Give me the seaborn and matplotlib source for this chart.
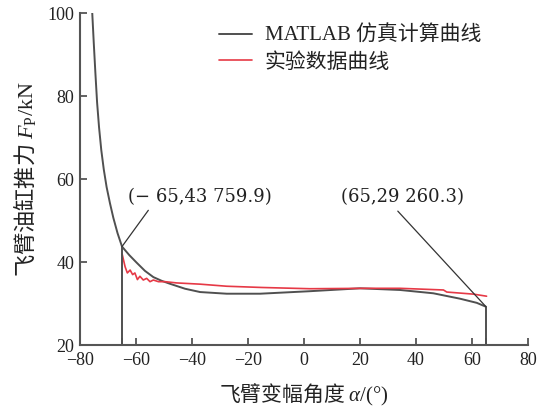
import matplotlib
matplotlib.use("Agg")
import matplotlib.pyplot as plt
import seaborn as sns
import pandas as pd

# MATLAB simulated curve (angle in deg, force in kN)
sim_x = [-75.7, -75.1, -74.5, -73.9, -73.2, -72.4, -71.5, -70.5, -69.3, -68.1, -66.6,
         -65.0, -62.4, -59.8, -56.8, -53.8, -50.8, -47.9, -42.5, -37.1, -27.6, -15.7,
         2.0, 20.0, 34.3, 46.2, 55.7, 61.7, 65.0]
sim_y = [101.0, 93.0, 85.5, 78.5, 72.5, 67.0, 62.3, 58.1, 54.2, 50.7, 47.0,
         43.76, 41.7, 39.9, 37.9, 36.4, 35.5, 34.8, 33.6, 32.8, 32.4, 32.4,
         33.0, 33.7, 33.3, 32.5, 31.2, 30.2, 29.26]

# experimental curve
exp_x = [-65.0, -63.9, -63.1, -62.1, -61.2, -60.4, -59.5, -58.6, -57.4, -56.2, -55.0,
         -53.8, -52.0, -49.6, -45.5, -37.1, -27.6, -15.0, 2.1, 22.4, 34.3, 49.8,
         51.0, 60.5, 65.2]
exp_y = [42.1, 38.9, 37.4, 38.1, 37.0, 37.4, 35.8, 36.6, 35.7, 36.1, 35.3,
         35.7, 35.3, 35.3, 35.0, 34.7, 34.2, 33.9, 33.6, 33.7, 33.7, 33.3,
         32.8, 32.3, 31.8]

# marked end points (kN) and their labels
mark_x = [-65, 65]
mark_y = [43.7599, 29.2603]
mark_labels = ["(\u2212 65,43 759.9)", "(65,29 260.3)"]

legend_labels = ["MATLAB 仿真计算曲线", "实验数据曲线"]

sns.set_theme(style="ticks")
plt.rcParams["font.family"] = ["Liberation Serif", "Noto Sans CJK SC"]
# mathtext: italic symbols and units in serif
plt.rcParams["mathtext.fontset"] = "custom"
plt.rcParams["mathtext.rm"] = "Liberation Serif"
plt.rcParams["mathtext.it"] = "Liberation Serif:italic"
plt.rcParams["mathtext.sf"] = "Liberation Serif"
plt.rcParams["axes.unicode_minus"] = True

gray = "#505050"
red = "#e63946"

sim = pd.DataFrame({"x": sim_x, "y": sim_y})
exp = pd.DataFrame({"x": exp_x, "y": exp_y})

fig = plt.figure(figsize=(5.48, 4.08), dpi=100)
ax = fig.add_axes([0.146, 0.154, 0.8175, 0.8137])

sns.lineplot(data=sim, x="x", y="y", sort=False, estimator=None, color=gray,
             lw=1.4, label=legend_labels[0], ax=ax)
sns.lineplot(data=exp, x="x", y="y", sort=False, estimator=None, color=red,
             lw=1.2, label=legend_labels[1], ax=ax)

# vertical drop lines at the end points
ax.vlines(mark_x, 20, mark_y, color=gray, lw=1.4)

# annotations
text_pos = [(-37.1, 55.7), (35.2, 55.7)]
line_end = [(-55.6, 52.5), (33.5, 52.3)]
for mx, my, lab, tp, le in zip(mark_x, mark_y, mark_labels, text_pos, line_end):
    ax.plot([mx, le[0]], [my, le[1]], color="#333333", lw=0.9)
    ax.text(tp[0], tp[1], lab, ha="center", va="center", fontsize=13,
            family=["DejaVu Serif", "Noto Sans CJK SC"], color="#222222")

ax.set_xlim(-80, 80)
ax.set_ylim(20, 100)
ax.set_xticks(range(-80, 81, 20))
ax.set_xticks(mark_x, minor=True)
ax.set_yticks(range(20, 101, 20))
ax.tick_params(which="both", direction="in", length=5, width=1.3, color="#555555",
               labelsize=13, labelcolor="#222222")
ax.tick_params(axis="x", pad=5)
ax.tick_params(axis="y", pad=4)

for side in ["left", "bottom"]:
    ax.spines[side].set_color("#555555")
    ax.spines[side].set_linewidth(1.5)
sns.despine(ax=ax)

# CJK text is the label's own font; math parts come from the serif mathtext fonts
ax.set_xlabel("飞臂变幅角度 $\\mathit{\\alpha}\\mathsf{/(°)}$", fontsize=15,
              family="Noto Sans CJK SC", color="#222222", labelpad=9)
ax.set_ylabel("飞臂油缸推力 $F_{\\mathsf{P}}\\mathsf{/kN}$", fontsize=16,
              family="Noto Sans CJK SC", color="#222222", labelpad=7)

leg = ax.legend(loc="upper left", bbox_to_anchor=(0.31, 0.962), frameon=False,
                fontsize=15, handlelength=1.6, handletextpad=0.6, labelspacing=0.35,
                borderpad=0, borderaxespad=0)
for t in leg.get_texts():
    t.set_color("#222222")

fig.savefig("out.png", dpi=100)
